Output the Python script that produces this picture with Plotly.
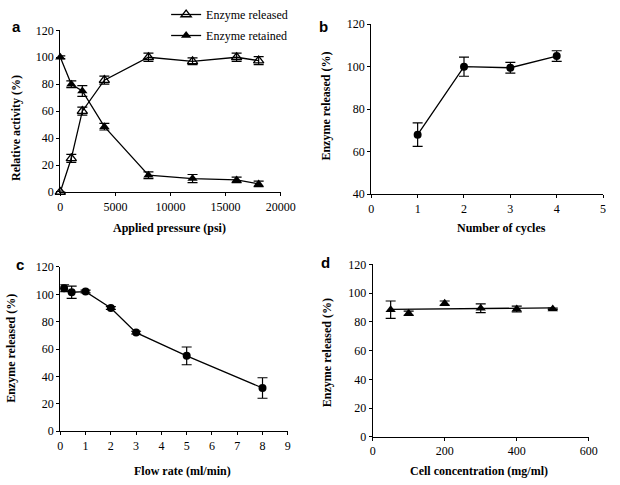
import numpy as np
import plotly.graph_objects as go

W, H = 620, 485

# Panel a
pressure = [0, 1000, 2000, 4000, 8000, 12000, 16000, 18000]
released = [0, 25, 60, 83, 100, 97, 100, 97.5]
released_err = [0, 3, 3, 3, 3, 2.5, 3, 3]
retained = [100, 80, 75, 48.5, 12.5, 10, 9, 6]
retained_err = [1, 2.5, 4, 2.5, 2.5, 3, 2, 2]

# Panel b
cycles = [1, 2, 3, 4]
cycles_val = [68, 100, 99.5, 105]
cycles_err = [5.5, 4.5, 2.5, 2.5]

# Panel c
flow = [0.15, 0.45, 1, 2, 3, 5, 8]
flow_val = [104.5, 101.5, 102, 90, 72, 55, 31.5]
flow_err = [2.5, 4.5, 1, 1, 1, 6.5, 7.5]

# Panel d
conc = [50, 100, 200, 300, 400, 500]
conc_val = [88.5, 86, 93, 89.5, 89, 89]
conc_err = [6, 1.5, 1.5, 3, 2, 0.5]

SERIF = "Liberation Serif, Times New Roman, serif"
SANS = "Liberation Sans, Arial, sans-serif"

def px_dom_x(a, b):
    return [a / W, b / W]

def px_dom_y(top, bottom):
    return [1 - bottom / H, 1 - top / H]

fig = go.Figure()

def eb(arr):
    return dict(type="data", array=arr, visible=True, color="black", thickness=1.2, width=5)

fig.add_trace(go.Scatter(x=pressure, y=released, mode="lines+markers", name="Enzyme released",
                         legendgroup="g1",
                         line=dict(color="black", width=1.3), cliponaxis=False,
                         marker=dict(symbol="triangle-up-open", size=9, color="black", line=dict(width=1.3)),
                         error_y=eb(released_err), xaxis="x", yaxis="y"))
fig.add_trace(go.Scatter(x=pressure, y=retained, mode="lines+markers", name="Enzyme retained",
                         legendgroup="g2",
                         line=dict(color="black", width=1.3), cliponaxis=False,
                         marker=dict(symbol="triangle-up", size=9, color="black"),
                         error_y=eb(retained_err), xaxis="x", yaxis="y"))

fig.add_trace(go.Scatter(x=cycles, y=cycles_val, mode="lines+markers", showlegend=False,
                         line=dict(color="black", width=1.3), cliponaxis=False,
                         marker=dict(symbol="circle", size=8, color="black"),
                         error_y=eb(cycles_err), xaxis="x2", yaxis="y2"))

fig.add_trace(go.Scatter(x=flow, y=flow_val, mode="lines+markers", showlegend=False,
                         line=dict(color="black", width=1.3), cliponaxis=False,
                         marker=dict(symbol="circle", size=8, color="black"),
                         error_y=eb(flow_err), xaxis="x3", yaxis="y3"))

fig.add_trace(go.Scatter(x=conc, y=conc_val, mode="markers", showlegend=False, cliponaxis=False,
                         marker=dict(symbol="triangle-up", size=9, color="black"),
                         error_y=eb(conc_err), xaxis="x4", yaxis="y4"))
slope, icpt = np.polyfit(conc, conc_val, 1)
tx = [min(conc), max(conc)]
fig.add_trace(go.Scatter(x=tx, y=[slope * v + icpt for v in tx], mode="lines", showlegend=False,
                         line=dict(color="black", width=1.3), xaxis="x4", yaxis="y4",
                         hoverinfo="skip"))

tickfont = dict(family=SERIF, size=12, color="black")

def axis(dom, rng, dtick, anchor, t0=0):
    return dict(domain=dom, range=rng, dtick=dtick, tick0=t0, anchor=anchor,
                showline=True, linecolor="black", linewidth=1.2, showgrid=False, zeroline=False,
                ticks="outside", ticklen=3, tickcolor="black", tickwidth=1.2,
                tickfont=tickfont, tickformat="d")

fig.update_layout(
    width=W, height=H, margin=dict(l=0, r=0, t=0, b=0),
    paper_bgcolor="white", plot_bgcolor="white",
    showlegend=True,
    legend=dict(x=168 / W, y=1.015, xanchor="left", yanchor="top",
                font=dict(family=SERIF, size=12, color="black"),
                bgcolor="rgba(0,0,0,0)", tracegroupgap=2, itemwidth=30),
    xaxis=axis(px_dom_x(59, 286), [0, 20000], 5000, "y"),
    yaxis=axis(px_dom_y(24, 190.5), [0, 120], 20, "x"),
    xaxis2=axis(px_dom_x(379.3, 618), [0, 5], 1, "y2"),
    yaxis2=axis(px_dom_y(17.7, 192.7), [40, 120], 20, "x2", 40),
    xaxis3=axis(px_dom_x(59, 293.3), [0, 9], 1, "y3"),
    yaxis3=axis(px_dom_y(267.7, 436.7), [0, 120], 20, "x3"),
    xaxis4=axis(px_dom_x(380.7, 603.3), [0, 600], 200, "y4"),
    yaxis4=axis(px_dom_y(265, 442.7), [0, 120], 20, "x4"),
)

titlefont = dict(family=SERIF, size=12, color="black")
anns = [
    ("<b>Applied pressure (psi)</b>", 171, 228, 0),
    ("<b>Relative activity (%)</b>", 14, 125, -90),
    ("<b>Number of cycles</b>", 513, 228, 0),
    ("<b>Enzyme released (%)</b>", 331.7, 102.5, -90),
    ("<b>Flow rate (ml/min)</b>", 185, 478, 0),
    ("<b>Enzyme released (%)</b>", 7.5, 351.7, -90),
    ("<b>Cell concentration (mg/ml)</b>", 490, 478, 0),
    ("<b>Enzyme released (%)</b>", 333.3, 355.8, -90),
]
for text, x, y, ang in anns:
    fig.add_annotation(text=text, x=x / W, y=1 - y / H, xref="paper", yref="paper",
                       showarrow=False, textangle=ang, font=titlefont,
                       xanchor="center", yanchor="middle")

for text, x, y in [("a", 14, 20), ("b", 330, 20), ("c", 17.5, 265), ("d", 331.7, 263)]:
    fig.add_annotation(text="<b>" + text + "</b>", x=x / W, y=1 - y / H, xref="paper", yref="paper",
                       showarrow=False, font=dict(family=SANS, size=15, color="black"),
                       xanchor="center", yanchor="middle")

post = ("var s=document.documentElement.style;s.margin='0';s.padding='0';s.overflow='hidden';"
        "var b=document.body.style;b.margin='0';b.padding='0';b.overflow='hidden';")
fig.write_html("out.html", post_script=post, config={"displayModeBar": False})
